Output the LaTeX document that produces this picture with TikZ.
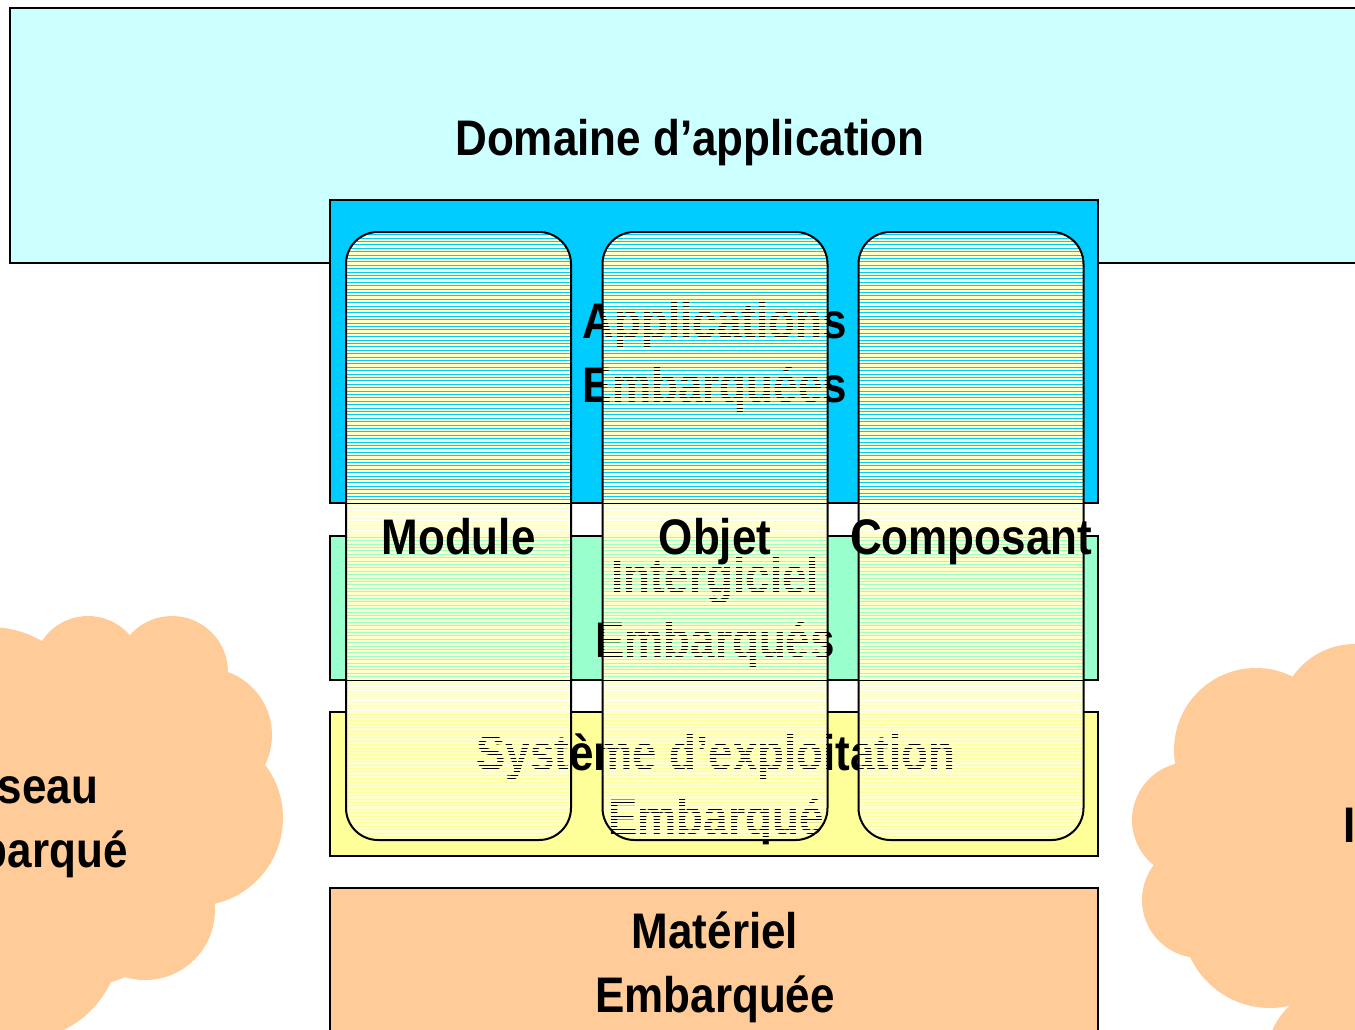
\documentclass[tikz,border=0pt]{standalone}
\usepackage{fontspec}
\newfontfamily\diagfont{Liberation Sans}[FakeStretch=0.88]

\definecolor{domaincyan}{HTML}{CCFFFF}
\definecolor{appblue}{HTML}{00CCFF}
\definecolor{midgreen}{HTML}{99FFCC}
\definecolor{osyellow}{HTML}{FFFF99}
\definecolor{hwpeach}{HTML}{FFCC99}
\definecolor{stripe}{HTML}{FFFFCC}

\begin{document}
\begin{tikzpicture}[
        x=1pt, y=-1pt,
        line width=2pt,
        font=\diagfont\bfseries\fontsize{50}{64}\selectfont
    ]
    \tikzset{
        layer/.style = {rectangle, draw=black, inner sep=0pt, minimum width=768pt},
        pillar/.style = {rectangle, rounded corners=32pt, draw=black,
            minimum width=225pt, minimum height=608pt, inner sep=0pt,
            path picture={
                \foreach \k in {0,...,180}
                    \draw[stripe, line width=2.3pt]
                        ([yshift=-\k*3.4pt-1pt]path picture bounding box.north west) --
                        ([yshift=-\k*3.4pt-1pt]path picture bounding box.north east);
            }},
        plbl/.style = {inner sep=0pt, text height=36.5pt, text depth=0pt},
        txt/.style = {align=center, inner sep=0pt},
        puff/.style = {fill=hwpeach},
    }
    \useasboundingbox (0,0) rectangle (1355,1029);
    \clip (0,0) rectangle (1355,1029);

    % clouds
    \foreach \cx/\cy/\r in {-10/730/103, 88/671/55, 172/672/56, 205/735/67,
            195/818/88, 145/910/70, 20/940/100, 60/820/170}
        \fill[puff] (\cx,\cy) circle (\r);
    \foreach \cx/\cy/\r in {1355/720/76, 1256/750/82, 1190/820/58, 1200/900/58,
            1270/920/88, 1340/1060/74, 1340/850/150, 1430/820/160}
        \fill[puff] (\cx,\cy) circle (\r);
    \node[txt] (reseau) at (20,822) {Réseau\\Embarqué};
    \node[txt, anchor=base west] (interface) at (1342,842) {Interface};

    % layers
    \node[layer, fill=domaincyan, minimum width=1364pt, minimum height=255pt] (domaine) at (692,135.5) {};
    \node[txt] (domainetxt) at (690,143) {Domaine d’application};
    \node[layer, fill=appblue, minimum height=303pt] (appli) at (714,351.5) {};
    \node[txt] (applitxt) at (715,358) {Applications\\Embarquées};
    \node[layer, fill=midgreen, minimum height=144pt] (inter) at (714,608) {};
    \node[txt] (intertxt) at (715,613) {Intergiciel\\Embarqués};
    \node[layer, fill=osyellow, minimum height=144pt] (os) at (714,784) {};
    \node[txt] (ostxt) at (716,789) {Système d’exploitation\\Embarqué};
    \node[layer, fill=hwpeach, minimum height=146pt] (mat) at (714,961) {};
    \node[txt] (mattxt) at (715,967) {Matériel\\Embarquée};

    % pillars
    \node[pillar] (module) at (458.5,536) {};
    \node[pillar] (objet) at (715,536) {};
    \node[pillar] (composant) at (971,536) {};
    \node[plbl] (modulelbl) at (module) {Module};
    \node[plbl] (objetlbl) at (objet) {Objet};
    \node[plbl] (composantlbl) at (composant) {Composant};
\end{tikzpicture}
\end{document}
